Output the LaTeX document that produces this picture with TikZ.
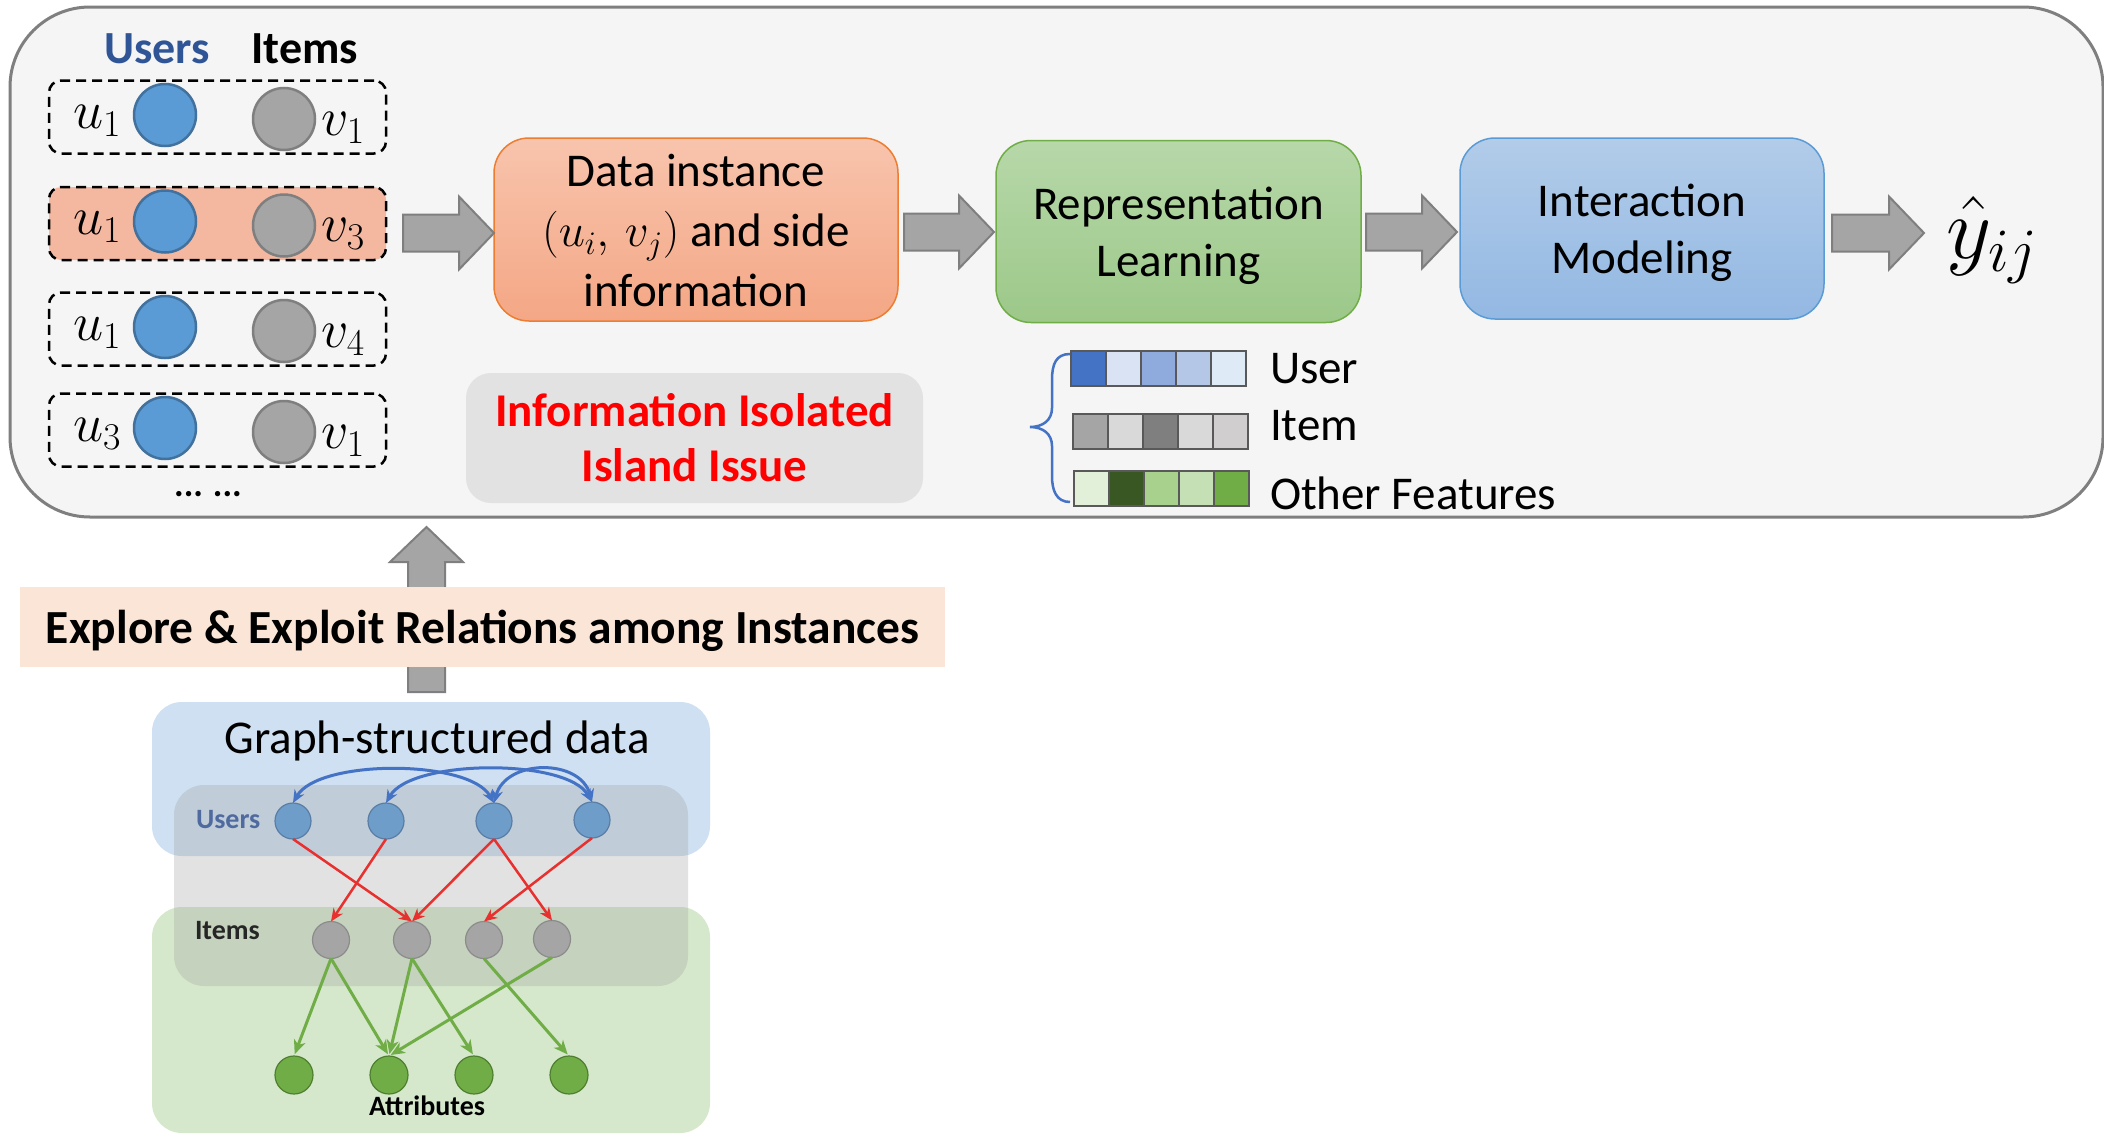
\RequirePackage{fix-cm}
\documentclass[tikz,border=0pt]{standalone}
\usepackage{fontspec}
\setmainfont{Carlito}
\usetikzlibrary{arrows.meta,calc}
\definecolor{outerfill}{HTML}{F5F5F5}
\definecolor{outerdraw}{HTML}{7F7F7F}
\definecolor{ublue}{HTML}{5B9BD5}
\definecolor{ubluedk}{HTML}{41719C}
\definecolor{igray}{HTML}{A5A5A5}
\definecolor{igraydk}{HTML}{7F7F7F}
\definecolor{salmon}{HTML}{F4B79F}
\definecolor{bAtop}{HTML}{F8C4AD}
\definecolor{bAbot}{HTML}{F4A785}
\definecolor{bAdraw}{HTML}{ED7D31}
\definecolor{bBtop}{HTML}{B7D8A9}
\definecolor{bBbot}{HTML}{9CC889}
\definecolor{bBdraw}{HTML}{70AD47}
\definecolor{bCtop}{HTML}{B2CCE9}
\definecolor{bCbot}{HTML}{93B8E3}
\definecolor{bCdraw}{HTML}{5B9BD5}
\definecolor{infofill}{HTML}{E2E2E2}
\definecolor{bandfill}{HTML}{FBE5D6}
\definecolor{gblue}{HTML}{CEE0F1}
\definecolor{ggreen}{HTML}{D5E8CB}
\definecolor{gmid}{HTML}{A0A0A0}
\definecolor{gnodeU}{HTML}{6D9DC8}
\definecolor{gnodeUdk}{HTML}{5A7DA5}
\definecolor{gnodeIdk}{HTML}{8C8C8C}
\definecolor{gnodeA}{HTML}{70AD47}
\definecolor{gnodeAdk}{HTML}{4E7F30}
\definecolor{usersdark}{HTML}{2F5597}
\definecolor{guserlab}{HTML}{4F6A9E}
\definecolor{redge}{HTML}{E8312F}
\definecolor{gedge}{HTML}{70AD47}
\definecolor{arcblue}{HTML}{4472C4}
\definecolor{cellbd}{HTML}{595959}
\definecolor{uA}{HTML}{4472C4}
\definecolor{uB}{HTML}{DAE3F3}
\definecolor{uC}{HTML}{8FAADC}
\definecolor{uD}{HTML}{B4C7E7}
\definecolor{uE}{HTML}{DEEBF7}
\definecolor{iA}{HTML}{A5A5A5}
\definecolor{iB}{HTML}{D9D9D9}
\definecolor{iC}{HTML}{7F7F7F}
\definecolor{iD}{HTML}{D9D9D9}
\definecolor{iE}{HTML}{D0CECE}
\definecolor{oA}{HTML}{E2F0D9}
\definecolor{oB}{HTML}{385723}
\definecolor{oC}{HTML}{A9D18E}
\definecolor{oD}{HTML}{C5E0B4}
\definecolor{oE}{HTML}{70AD47}
\newcommand\fsz[2]{\fontsize{#1}{#2}\selectfont}
\tikzset{
  outerbox/.style={draw=outerdraw, fill=outerfill, line width=3pt, rounded corners=80pt},
  pairbox/.style={draw=black, line width=2.5pt, dash pattern=on 10pt off 6pt, rounded corners=12pt, minimum width=337pt, minimum height=73pt},
  ucirc/.style={circle, fill=ublue, draw=ubluedk, line width=2.5pt, minimum size=62pt},
  icirc/.style={circle, fill=igray, draw=igraydk, line width=2.5pt, minimum size=62pt},
  mathlab/.style={font=\fsz{54}{60}, anchor=base},
  stepbox/.style={rounded corners=35pt, line width=1.5pt},
  steptext/.style={align=center, font=\fsz{47}{57}},
  arrowst/.style={fill=igray, draw=igraydk, line width=2pt, line join=miter},
  barrow/.pic={\draw[arrowst] (0,-18.5) -- ({#1-35},-18.5) -- ({#1-35},-36.5) -- (#1,0) -- ({#1-35},36.5) -- ({#1-35},18.5) -- (0,18.5) -- cycle;},
  cell/.style={draw=cellbd, line width=2pt, minimum width=35pt, minimum height=35pt},
  legtext/.style={font=\fsz{47}{58}, anchor=base west},
  gu/.style={circle, fill=gnodeU, draw=gnodeUdk, line width=1.2pt, minimum size=36pt},
  gi/.style={circle, fill=igray, draw=gnodeIdk, line width=1.2pt, minimum size=37pt},
  ga/.style={circle, fill=gnodeA, draw=gnodeAdk, line width=1.2pt, minimum size=38pt},
  redg/.style={draw=redge, line width=2.5pt, -{Stealth[length=13pt,width=11pt]}},
  gedg/.style={draw=gedge, line width=3pt, -{Stealth[length=14pt,width=12pt,inset=4pt]}},
  barc/.style={draw=arcblue, line width=3pt, {Stealth[length=13pt,width=11pt]}-{Stealth[length=13pt,width=11pt]}},
  glab/.style={font=\fsz{28}{32}\bfseries, anchor=base west}
}
\begin{document}
\begin{tikzpicture}[x=1pt,y=-1pt, every node/.style={inner sep=0pt, outer sep=0pt}]
\useasboundingbox (0,0) rectangle (2104,1135);
\fill[white] (0,0) rectangle (2104,1135);

% outer panel
\node[outerbox, minimum width=2093pt, minimum height=510pt] (outer) at (1056.5,262) {};

% headers
\node[font=\fsz{46}{50}\bfseries, text=usersdark, anchor=base] (hU) at (157,63) {Users};
\node[font=\fsz{46}{50}\bfseries, anchor=base] (hI) at (305,63) {Items};

% pair boxes
\node[pairbox] (p1) at (217.5,117) {};
\node[pairbox, fill=salmon] (p2) at (217.5,223.5) {};
\node[pairbox] (p3) at (217.5,329) {};
\node[pairbox] (p4) at (217.5,430) {};
\foreach \i/\c/\ua/\vb in {1/117/1/1, 2/223.5/1/3, 3/329/1/4, 4/430/3/1}{
  \node[ucirc] (uc\i) at (165,{\c-2}) {};
  \node[icirc] (vc\i) at (284,{\c+2}) {};
  \node[mathlab] (ul\i) at (97,{\c+11}) {$u_{\ua}$};
  \node[mathlab] (vl\i) at (343,{\c+18}) {$v_{\vb}$};
}
\node[font=\fsz{36}{40}\bfseries] (dots) at (208,494) {...\hspace{10pt}...};

% pipeline boxes
\node[stepbox, draw=bAdraw, top color=bAtop, bottom color=bAbot, minimum width=404pt, minimum height=183pt] (b1) at (696,229.5) {};
\node[steptext, font=\fsz{47}{60}] (b1t) at (696,231) {Data instance\\$(u_i,\,v_j)$ and side\\information};
\node[stepbox, draw=bBdraw, top color=bBtop, bottom color=bBbot, minimum width=365pt, minimum height=182pt] (b2) at (1178.5,231.5) {};
\node[steptext] (b2t) at (1178.5,236) {Representation\\Learning};
\node[stepbox, draw=bCdraw, top color=bCtop, bottom color=bCbot, minimum width=364pt, minimum height=181pt] (b3) at (1642,228.5) {};
\node[steptext] (b3t) at (1642,233) {Interaction\\Modeling};
\node[font=\fsz{88}{96}, anchor=base west] (yhat) at (1946,258) {$\hat{y}_{ij}$};

% block arrows
\pic (a1) at (403,233) {barrow=91};
\pic (a2) at (904,232) {barrow=90};
\pic (a3) at (1366,232) {barrow=91};
\pic (a4) at (1832,233) {barrow=92};

% information island
\node[fill=infofill, rounded corners=25pt, minimum width=457pt, minimum height=130pt, align=center, text=red, font=\fsz{47}{55}\bfseries] (info) at (694.5,438)
  {Information Isolated\\Island Issue};

% legend bars
\foreach \k/\col in {0/uA,1/uB,2/uC,3/uD,4/uE}{
  \node[cell, fill=\col] (ub\k) at ({1088.5+35*\k},368.5) {};
}
\foreach \k/\col in {0/iA,1/iB,2/iC,3/iD,4/iE}{
  \node[cell, fill=\col] (ib\k) at ({1090.5+35*\k},431.5) {};
}
\foreach \k/\col in {0/oA,1/oB,2/oC,3/oD,4/oE}{
  \node[cell, fill=\col] (ob\k) at ({1091.5+35*\k},488.5) {};
}
\draw[arcblue, line width=2.5pt] (1070,354) .. controls (1056,354) and (1052,364) .. (1052,380) -- (1052,408) .. controls (1052,420) and (1043,427) .. (1030,427) .. controls (1043,427) and (1052,434) .. (1052,446) -- (1052,476) .. controls (1052,490) and (1056,502) .. (1070,502);
\node[legtext] (lU) at (1270,383) {User};
\node[legtext] (lI) at (1270,440) {Item};
\node[legtext] (lO) at (1270,509) {Other Features};

% up arrow and band
\pic[rotate=90] (aup) at (426.5,692) {barrow=165};
\node[fill=bandfill, minimum width=925pt, minimum height=80pt] (band) at (482.5,627) {};
\node[font=\fsz{47.5}{52}\bfseries] (bandt) at (482.5,631) {Explore \& Exploit Relations among Instances};

% graph panels
\node[fill=gblue, rounded corners=30pt, minimum width=558pt, minimum height=154pt] (gbox) at (431,779) {};
\node[fill=ggreen, rounded corners=30pt, minimum width=558pt, minimum height=226pt] (grbox) at (431,1020) {};
\node[fill=gmid, fill opacity=0.3, rounded corners=30pt, minimum width=514pt, minimum height=201pt] (mbox) at (431,885.5) {};
\node[font=\fsz{47}{52}] (gtitle) at (437,741) {Graph-structured data};
\node[glab, text=guserlab] (gUl) at (196,828) {Users};
\node[glab, text=black!85] (gIl) at (195,939) {Items};
\node[font=\fsz{28}{32}\bfseries, anchor=base] (gAl) at (427,1115) {Attributes};

% graph nodes
\node[gu] (gu1) at (293,821) {};
\node[gu] (gu2) at (386,821) {};
\node[gu] (gu3) at (494,821) {};
\node[gu] (gu4) at (592,820) {};
\node[gi] (gi1) at (331,940) {};
\node[gi] (gi2) at (412,940) {};
\node[gi] (gi3) at (484,940) {};
\node[gi] (gi4) at (552,939) {};
\node[ga] (ga1) at (294,1075) {};
\node[ga] (ga2) at (389,1075) {};
\node[ga] (ga3) at (474,1075) {};
\node[ga] (ga4) at (569,1075) {};

% graph edges
\draw[redg] (gu1.south) -- (gi2.north);
\draw[redg] (gu2.south) -- (gi1.north);
\draw[redg] (gu3.south) -- (gi2.north);
\draw[redg] (gu3.south) -- (gi4.north);
\draw[redg] (gu4.south) -- (gi3.north);
\draw[gedg, shorten >=2pt] (gi1.south) -- (ga1.north);
\draw[gedg, shorten >=2pt] (gi1.south) -- (ga2.north);
\draw[gedg, shorten >=2pt] (gi2.south) -- (ga2.north);
\draw[gedg, shorten >=2pt] (gi2.south) -- (ga3.north);
\draw[gedg, shorten >=2pt] (gi3.south) -- (ga4.north);
\draw[gedg, shorten >=2pt] (gi4.south) -- (ga2.north);
\draw[barc] (gu1.north) .. controls +(25,-44) and +(-25,-44) .. (gu3.north);
\draw[barc] (gu2.north) .. controls +(25,-44) and +(-25,-44) .. (gu4.north);
\draw[barc] (gu3.north) .. controls +(12,-44) and +(-12,-44) .. (gu4.north);
\end{tikzpicture}
\end{document}
